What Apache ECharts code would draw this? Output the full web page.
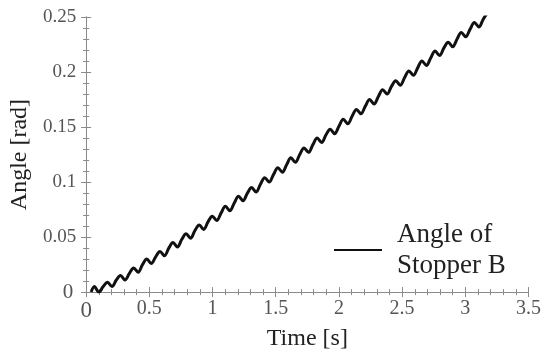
<!DOCTYPE html>
<html>
<head>
<meta charset="utf-8">
<script src="https://cdn.jsdelivr.net/npm/echarts@6/dist/echarts.min.js"></script>
<style>
html,body{margin:0;padding:0;background:#fff;}
#chart{width:544px;height:356px;}
</style>
</head>
<body>
<div id="chart"></div>
<script>
// Tick labels
var xTicks = [0, 0.5, 1, 1.5, 2, 2.5, 3, 3.5];
var yTicks = [0, 0.05, 0.1, 0.15, 0.2, 0.25];

// Series: Angle of Stopper B (time [s], angle [rad])
var timeValues = [
  0.040, 0.065, 0.100, 0.135,
  0.169, 0.204, 0.239,
  0.272, 0.307, 0.342,
  0.376, 0.411, 0.446,
  0.480, 0.515, 0.550,
  0.584, 0.619, 0.654,
  0.687, 0.722, 0.757,
  0.791, 0.826, 0.861,
  0.895, 0.930, 0.965,
  0.998, 1.033, 1.068,
  1.102, 1.137, 1.172,
  1.206, 1.241, 1.276,
  1.309, 1.344, 1.379,
  1.413, 1.448, 1.483,
  1.517, 1.552, 1.587,
  1.620, 1.655, 1.690,
  1.724, 1.759, 1.794,
  1.828, 1.863, 1.898,
  1.931, 1.966, 2.001,
  2.035, 2.070, 2.105,
  2.139, 2.174, 2.209,
  2.243, 2.278, 2.313,
  2.346, 2.381, 2.416,
  2.450, 2.485, 2.520,
  2.554, 2.589, 2.624,
  2.657, 2.692, 2.727,
  2.761, 2.796, 2.831,
  2.865, 2.900, 2.935,
  2.968, 3.003, 3.038,
  3.072, 3.107, 3.142,
  3.176
];
var angleValues = [
  0.000, 0.005, 0.000, 0.005,
  0.009, 0.005, 0.011,
  0.015, 0.011, 0.017,
  0.022, 0.018, 0.025,
  0.030, 0.026, 0.032,
  0.037, 0.033, 0.040,
  0.045, 0.041, 0.048,
  0.053, 0.049, 0.056,
  0.061, 0.057, 0.064,
  0.069, 0.065, 0.072,
  0.078, 0.074, 0.081,
  0.087, 0.083, 0.090,
  0.095, 0.091, 0.098,
  0.104, 0.100, 0.107,
  0.113, 0.109, 0.116,
  0.122, 0.118, 0.125,
  0.131, 0.127, 0.134,
  0.140, 0.136, 0.143,
  0.148, 0.144, 0.151,
  0.157, 0.153, 0.160,
  0.166, 0.162, 0.169,
  0.175, 0.171, 0.178,
  0.184, 0.180, 0.187,
  0.192, 0.188, 0.195,
  0.201, 0.197, 0.204,
  0.210, 0.206, 0.213,
  0.219, 0.215, 0.222,
  0.227, 0.223, 0.230,
  0.236, 0.232, 0.239,
  0.245, 0.241, 0.248,
  0.254
];
var seriesName = 'Angle of\nStopper B';

var seriesData = timeValues.map(function (t, i) { return [t, angleValues[i]]; });

var FONT = '"Liberation Serif", "Times New Roman", serif';
var axisGray = '#8a8a8a';
var labelGray = '#555';

function baseAxis(ticks) {
  return {
    type: 'value',
    min: ticks[0],
    max: ticks[ticks.length - 1],
    interval: ticks[1] - ticks[0],
    axisLine: { show: true, lineStyle: { color: axisGray, width: 1 } },
    axisTick: { show: true, inside: true, length: 5, lineStyle: { color: axisGray } },
    minorTick: { show: true, splitNumber: 5, length: 3, lineStyle: { color: axisGray } },
    splitLine: { show: false },
    minorSplitLine: { show: false }
  };
}

var xMain = Object.assign(baseAxis(xTicks), {
  position: 'bottom',
  name: 'Time [s]',
  nameLocation: 'middle',
  nameGap: 31,
  nameTextStyle: { fontFamily: FONT, fontSize: 24, color: '#222' },
  axisLabel: {
    margin: 7,
    fontFamily: FONT,
    fontSize: 20,
    color: labelGray,
    formatter: function (v) { return v === 0 ? '{z|0}' : String(v); },
    rich: { z: { fontFamily: FONT, fontSize: 23, color: labelGray } }
  }
});
var xTop = Object.assign(baseAxis(xTicks), {
  position: 'top',
  axisLabel: { show: false }
});
var yMain = Object.assign(baseAxis(yTicks), {
  position: 'left',
  name: 'Angle [rad]',
  nameLocation: 'middle',
  nameGap: 48,
  nameTextStyle: { fontFamily: FONT, fontSize: 24, color: '#222' },
  axisLabel: {
    margin: 10, fontFamily: FONT, fontSize: 19, color: labelGray,
    formatter: function (v) { return v === 0 ? '{z|0}' : String(v); },
    rich: { z: { fontFamily: FONT, fontSize: 21, color: labelGray, padding: [0, 3, 0, 0] } }
  }
});
var yRight = Object.assign(baseAxis(yTicks), {
  position: 'right',
  axisLabel: { show: false }
});

var chart = echarts.init(document.getElementById('chart'), null, { renderer: 'canvas' });
chart.setOption({
  animation: false,
  backgroundColor: '#fff',
  grid: { left: 81, right: 13, top: 17, bottom: 61, containLabel: false },
  xAxis: [xMain, xTop],
  yAxis: [yMain, yRight],
  legend: {
    show: true,
    left: 329,
    top: 214,
    orient: 'vertical',
    itemWidth: 48,
    itemHeight: 2,
    itemGap: 0,
    icon: 'rect',
    textStyle: { fontFamily: FONT, fontSize: 27, color: '#222', lineHeight: 31, padding: [0, 0, 0, 10] },
    data: [seriesName]
  },
  series: [{
    name: seriesName,
    type: 'line',
    xAxisIndex: 0,
    yAxisIndex: 0,
    data: seriesData,
    showSymbol: false,
    smooth: 0.35,
    clip: true,
    lineStyle: { color: '#111', width: 3 },
    itemStyle: { color: '#111' }
  }]
});
</script>
</body>
</html>
